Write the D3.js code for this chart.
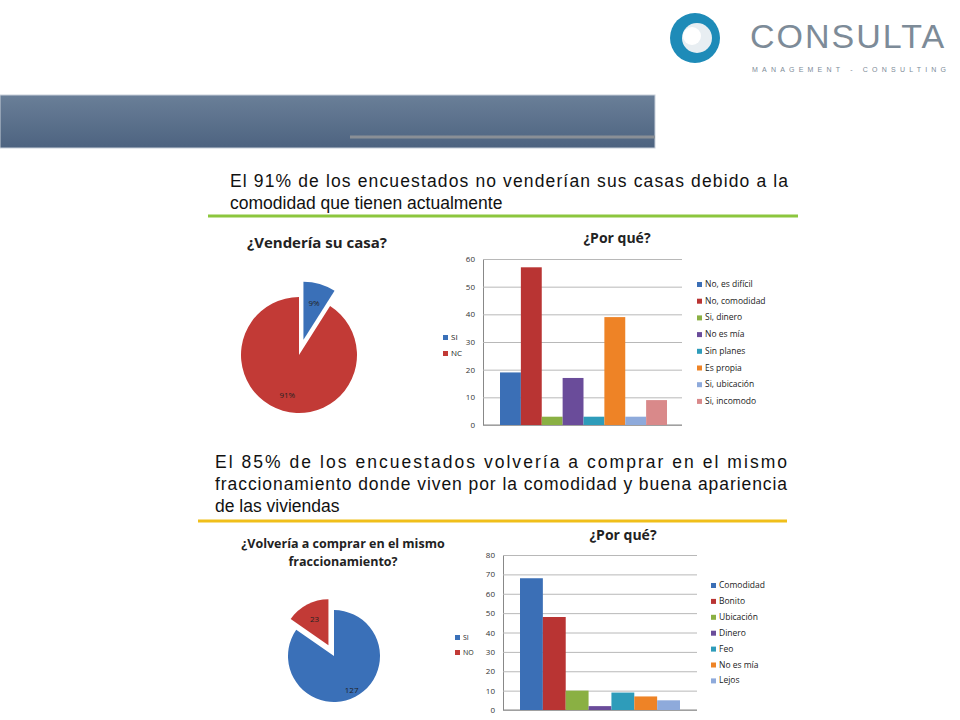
<!DOCTYPE html><html><head><meta charset="utf-8">
<script src="https://cdn.jsdelivr.net/npm/d3@7"></script>
<style>body{margin:0;background:#fff}svg{display:block}</style></head><body>
<svg id="s" width="960" height="720"></svg>
<script>
const pie1Labels=["SI","NO"], pie1Values=[9,91];
const bar1Cats=["No, es difícil","No, comodidad","Si, dinero","No es mía","Sin planes","Es propia","Si, ubicación","Si, incomodo"];
const bar1Values=[19,57,3,17,3,39,3,9];
const bar1Ticks=[0,10,20,30,40,50,60];
const pie2Labels=["SI","NO"], pie2Values=[127,23];
const bar2Cats=["Comodidad","Bonito","Ubicación","Dinero","Feo","No es mía","Lejos"];
const bar2Values=[68,48,10,2,9,7,5];
const bar2Ticks=[0,10,20,30,40,50,60,70,80];
const colors1=["#3b6fb6","#b93433","#8ab043","#6a4c9a","#2e9cba","#ee8326","#8eaadb","#d9898a"];
const colors2=["#3b6fb6","#b93433","#8ab043","#6a4c9a","#2e9cba","#ee8326","#8eaadb"];
const svg=d3.select("#s");
const F="Liberation Sans, Arial, sans-serif", C="Open Sans, Lato, sans-serif";
const g=svg.append("defs").append("linearGradient").attr("id","hg").attr("x1",0).attr("y1",0).attr("x2",0).attr("y2",1);
g.append("stop").attr("offset",0).attr("stop-color","#6a7f98");g.append("stop").attr("offset",1).attr("stop-color","#4d6380");
svg.append("rect").attr("x",0).attr("y",95).attr("width",655).attr("height",53).attr("fill","url(#hg)").attr("stroke","#c8d0da");
svg.append("line").attr("x1",350).attr("x2",655).attr("y1",137).attr("y2",137).attr("stroke","#8a8f96").attr("stroke-width",3);
svg.append("circle").attr("cx",695).attr("cy",38).attr("r",25).attr("fill","#1e8bb8");
svg.append("circle").attr("cx",697).attr("cy",38).attr("r",15).attr("fill","#e8eef2");
svg.append("circle").attr("cx",692).attr("cy",36).attr("r",9).attr("fill","#fff");
svg.append("text").attr("x",750).attr("y",48).attr("font-family",F).attr("font-size",34).attr("letter-spacing",2).attr("fill","#7d8b98").text("CONSULTA");
svg.append("text").attr("x",752).attr("y",72).attr("font-family",F).attr("font-size",7).attr("letter-spacing",4.2).attr("fill","#7d8b98").text("MANAGEMENT - CONSULTING");
function para(lines,x,w,y0,dy){lines.forEach((l,i)=>{const t=svg.append("text").attr("x",x).attr("y",y0+i*dy).attr("font-family",F).attr("font-size",17.5).attr("fill","#111").text(l);
 if(i<lines.length-1){t.attr("textLength",w).attr("lengthAdjust","spacing");}});}
para(["El 91% de los encuestados no venderían sus casas debido a la","comodidad que tienen actualmente"],230,558,187,22);
svg.append("line").attr("x1",208).attr("x2",798).attr("y1",216).attr("y2",216).attr("stroke","#8cc63e").attr("stroke-width",3);
para(["El 85% de los encuestados volvería a comprar en el mismo","fraccionamiento donde viven por la comodidad y buena apariencia","de las viviendas"],215,572,468,22);
svg.append("line").attr("x1",198).attr("x2",787).attr("y1",521).attr("y2",521).attr("stroke","#f0bf1a").attr("stroke-width",3);
function pie(vals,cx,cy,r,cols,explodeIdx,ex,labels,labelR){
 const arcs=d3.pie().sort(null)(vals);const arc=d3.arc().innerRadius(0).outerRadius(r);
 arcs.forEach((a,i)=>{const m=(a.startAngle+a.endAngle)/2;const off=i===explodeIdx?ex:0;
  const dx=Math.sin(m)*off, dy=-Math.cos(m)*off;
  svg.append("path").attr("d",arc(a)).attr("transform",`translate(${cx+dx},${cy+dy})`).attr("fill",cols[i]);
  const lr=labelR[i];svg.append("text").attr("x",cx+dx+Math.sin(m)*lr).attr("y",cy+dy-Math.cos(m)*lr+3).attr("text-anchor","middle")
   .attr("font-family",C).attr("font-size",8).attr("fill","#222").text(labels[i]);});
}
svg.append("text").attr("x",317).attr("y",248).attr("text-anchor","middle").attr("font-family",C).attr("font-weight","bold").attr("font-size",15).attr("fill","#222").text("¿Vendería su casa?");
pie(pie1Values,299,355,58,["#3a70b8","#c23a36"],0,16,pie1Values.map(v=>v+"%"),[38,42]);
function legend(x,y,labels,cols,dy,fs){labels.forEach((l,i)=>{svg.append("rect").attr("x",x).attr("y",y+i*dy-5).attr("width",5).attr("height",5).attr("fill",cols[i]);
 svg.append("text").attr("x",x+8).attr("y",y+i*dy).attr("font-family",C).attr("font-size",fs).attr("fill","#222").text(l);});}
legend(443,340,["SI","NC"],["#3a70b8","#c23a36"],16,8);
svg.append("text").attr("x",343).attr("y",548).attr("text-anchor","middle").attr("font-family",C).attr("font-weight","bold").attr("font-size",12.5).attr("fill","#222").text("¿Volvería a comprar en el mismo");
svg.append("text").attr("x",343).attr("y",566).attr("text-anchor","middle").attr("font-family",C).attr("font-weight","bold").attr("font-size",12.5).attr("fill","#222").text("fraccionamiento?");
pie(pie2Values,334,656,46,["#3a70b8","#c23a36"],1,12,pie2Values,[38,30]);
legend(455,640,["SI","NO"],["#3a70b8","#c23a36"],15,7);
function bars(cats,vals,ticks,cols,x0,x1,yTop,yBot,pad0,pad1,title,tx,ty,lx,ly,ldy){
 const y=d3.scaleLinear().domain([0,ticks[ticks.length-1]]).range([yBot,yTop]);
 const x=d3.scaleBand().domain(cats).range([x0+pad0,x1-pad1]).padding(0);
 const ax=svg.append("g").attr("transform",`translate(${x0},0)`).call(d3.axisLeft(y).tickValues(ticks).tickSize(-(x1-x0)).tickPadding(8));
 ax.select(".domain").attr("stroke","#888");ax.selectAll(".tick line").attr("stroke","#b8b8b8");
 ax.selectAll("text").attr("font-family",C).attr("font-size",8).attr("fill","#333");
 svg.append("line").attr("x1",x0).attr("x2",x1).attr("y1",yBot).attr("y2",yBot).attr("stroke","#888");
 cats.forEach((c,i)=>{svg.append("rect").attr("x",x(c)).attr("y",y(vals[i])).attr("width",x.bandwidth()).attr("height",yBot-y(vals[i])).attr("fill",cols[i]);});
 svg.append("text").attr("x",tx).attr("y",ty).attr("text-anchor","middle").attr("font-family",C).attr("font-weight","bold").attr("font-size",14).attr("fill","#222").text(title);
 legend(lx,ly,cats,cols,ldy,8.5);
}
bars(bar1Cats,bar1Values,bar1Ticks,colors1,483,682,259,425,17,15,"¿Por qué?",617,243,697,287,16.7);
bars(bar2Cats,bar2Values,bar2Ticks,colors2,503,697,555,710,17,17,"¿Por qué?",623,540,711,588,15.9);
</script></body></html>
